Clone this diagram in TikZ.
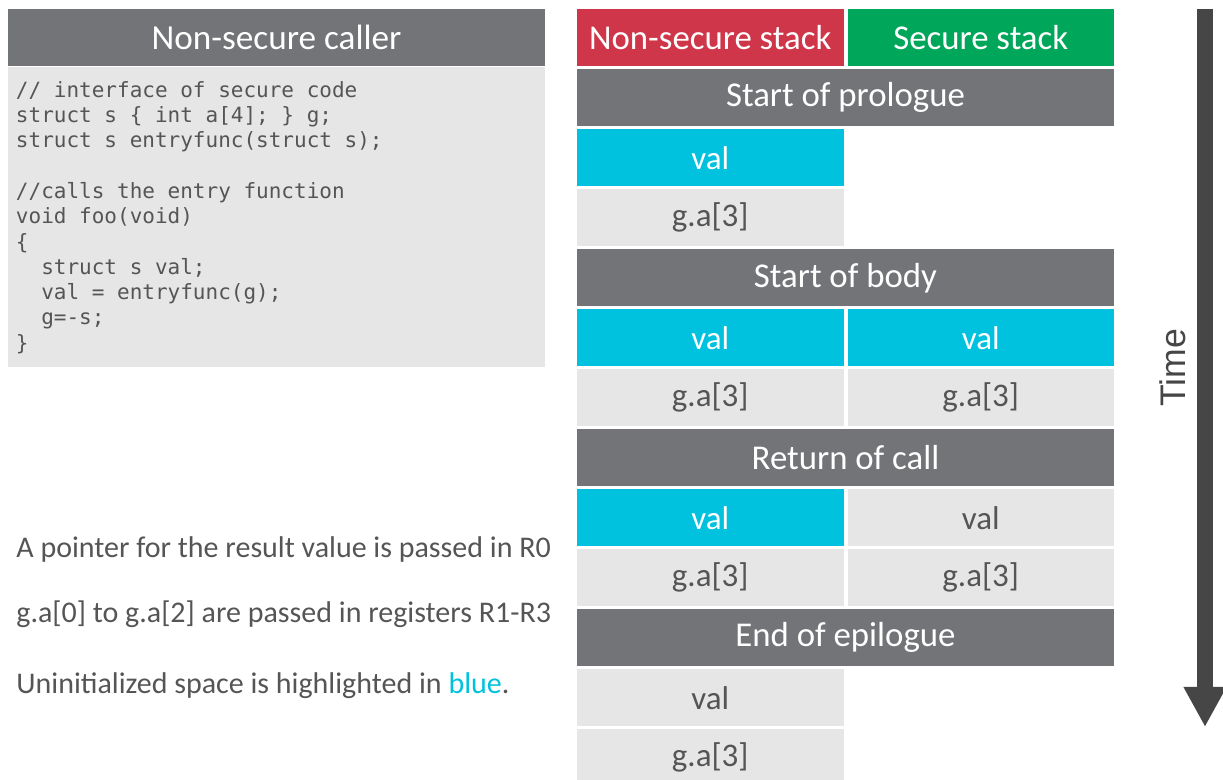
\documentclass[tikz,border=0pt]{standalone}
\usepackage{fontspec}
\setmainfont{Carlito}
\newfontfamily\codefont{DejaVu Sans Mono}
\newfontfamily\timefont{Liberation Sans}
\usepackage{tikz}
\usetikzlibrary{positioning,arrows.meta}

\definecolor{phasegray}{RGB}{115,116,120}
\definecolor{slotgray}{RGB}{230,230,230}
\definecolor{uninitblue}{RGB}{0,194,222}
\definecolor{nsred}{RGB}{207,54,73}
\definecolor{sgreen}{RGB}{0,166,90}
\definecolor{textgray}{RGB}{85,85,85}
\definecolor{arrowgray}{RGB}{70,70,70}

\tikzset{
  phase/.style={
      fill=phasegray,
      text=white,
      minimum width=268.5pt,
      minimum height=28.75pt,
      inner sep=0pt,
      outer sep=0pt,
      font=\fontsize{17.4}{19}\selectfont,
  },
  slot/.style={
      fill=slotgray,
      text=textgray,
      minimum width=133.25pt,
      minimum height=28.75pt,
      inner sep=0pt,
      outer sep=0pt,
      font=\fontsize{16.5}{18}\selectfont,
  },
  uninit/.style={
      slot,
      fill=uninitblue,
      text=white,
  },
  stackhead/.style={
      slot,
      text=white,
      font=\fontsize{17.4}{19}\selectfont,
  },
  codebox/.style={
      fill=slotgray,
      text=textgray,
      text width=260.5pt,
      inner xsep=4pt,
      inner ysep=0pt,
      outer sep=0pt,
      minimum height=150pt,
      align=left,
      font=\codefont\fontsize{10.5}{12.65}\selectfont,
  },
  note/.style={
      anchor=base west,
      inner sep=0pt,
      text=textgray,
      font=\fontsize{15}{17}\selectfont,
  },
}
\newcommand{\uninitcolor}[1]{{\color{uninitblue}#1}}
\newcommand{\codespacing}{\spaceskip=0.602em\relax\xspaceskip=0.602em\relax}

\begin{document}
\begin{tikzpicture}[x=0.5pt,y=-0.5pt]
  \useasboundingbox (0,0) rectangle (1223,780);

  % caller side
  \node[phase, anchor=north west, font=\fontsize{17.6}{19}\selectfont] (caller) at (8,9) {Non-secure caller};
  \node[codebox, below=0.5pt of caller] (code) {\codespacing
    // interface of secure code\\
    struct s \{ int a[4]; \} g;\\
    struct s entryfunc(struct s);\\
    \mbox{}\\
    //calls the entry function\\
    void foo(void)\\
    \{\\
    \hspace*{1.204em}struct s val;\\
    \hspace*{1.204em}val = entryfunc(g);\\
    \hspace*{1.204em}g=-s;\\
    \}};

  \node[note] (note1) at (16,558) {A pointer for the result value is passed in R0};
  \node[note] (note2) at (16,623) {g.a[0] to g.a[2] are passed in registers R1-R3};
  \node[note] (note3) at (16,694) {Uninitialized space is highlighted in \uninitcolor{blue}.};

  % stacks
  \node[stackhead, fill=nsred, anchor=north west] (nsstack) at (577,9) {Non-secure stack};
  \node[stackhead, fill=sgreen, right=2pt of nsstack] (sstack) {Secure stack};

  \node[phase, below right=1.25pt and 0pt of nsstack.south west] (prologue) {Start of prologue};
  \node[uninit, below right=1.25pt and 0pt of prologue.south west] (val1) {val};
  \node[slot, below=1.25pt of val1] (ga1) {g.a[3]};

  \node[phase, below right=1.25pt and 0pt of ga1.south west] (body) {Start of body};
  \node[uninit, below right=1.25pt and 0pt of body.south west] (val2ns) {val};
  \node[uninit, right=2pt of val2ns] (val2s) {val};
  \node[slot, below=1.25pt of val2ns] (ga2ns) {g.a[3]};
  \node[slot, right=2pt of ga2ns] (ga2s) {g.a[3]};

  \node[phase, below right=1.25pt and 0pt of ga2ns.south west] (retcall) {Return of call};
  \node[uninit, below right=1.25pt and 0pt of retcall.south west] (val3ns) {val};
  \node[slot, right=2pt of val3ns] (val3s) {val};
  \node[slot, below=1.25pt of val3ns] (ga3ns) {g.a[3]};
  \node[slot, right=2pt of ga3ns] (ga3s) {g.a[3]};

  \node[phase, below right=1.25pt and 0pt of ga3ns.south west] (epilogue) {End of epilogue};
  \node[slot, below right=1.25pt and 0pt of epilogue.south west] (val4) {val};
  \node[slot, below=1.25pt of val4] (ga4) {g.a[3]};

  % time axis
  \coordinate (tstart) at (1205,9);
  \coordinate (tend) at (1205,727);
  \draw[arrowgray, line width=8pt, -{Triangle[width=20pt,length=20pt]}] (tstart) -- (tend);
  \node[rotate=90, text=arrowgray, font=\timefont\fontsize{17.8}{19}\selectfont] (timelabel) at (1173,368) {Time};
\end{tikzpicture}
\end{document}
